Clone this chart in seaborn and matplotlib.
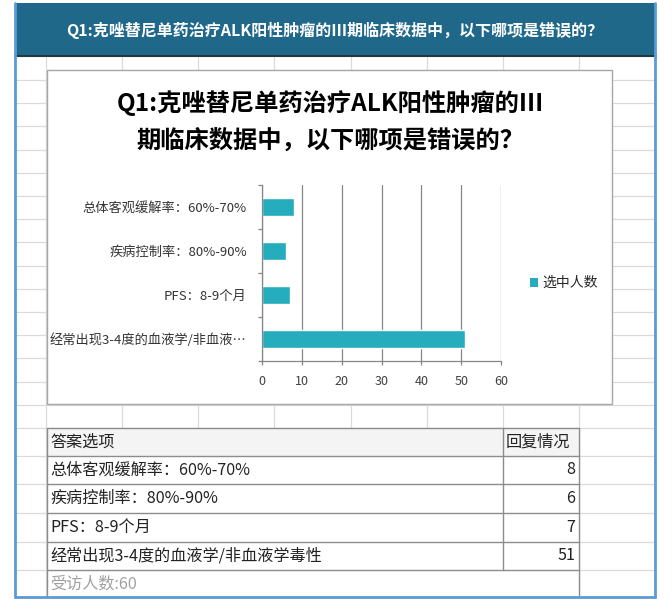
import matplotlib
matplotlib.use("Agg")
import matplotlib.pyplot as plt
import seaborn as sns
import pandas as pd
from matplotlib.patches import Rectangle, Patch

# ---------------- data ----------------
header_title = "Q1:克唑替尼单药治疗ALK阳性肿瘤的Ⅲ期临床数据中，以下哪项是错误的？"
chart_title = "Q1:克唑替尼单药治疗ALK阳性肿瘤的III\n期临床数据中，以下哪项是错误的？"
categories = ["总体客观缓解率：60%-70%", "疾病控制率：80%-90%", "PFS：8-9个月",
              "经常出现3-4度的血液学/非血液…"]
table_labels = ["总体客观缓解率：60%-70%", "疾病控制率：80%-90%", "PFS：8-9个月",
                "经常出现3-4度的血液学/非血液学毒性"]
counts = [8, 6, 7, 51]
x_ticks = [0, 10, 20, 30, 40, 50, 60]
series_name = "选中人数"
table_head = ["答案选项", "回复情况"]
respondents = "受访人数:60"

# ---------------- style ----------------
sns.set_theme(style="white")
plt.rcParams["font.family"] = ["Noto Sans CJK SC", "DejaVu Sans"]

W, H = 672, 599
fig = plt.figure(figsize=(W / 100, H / 100), dpi=100)
fig.patch.set_facecolor("white")

bg = fig.add_axes([0, 0, 1, 1], zorder=0)
bg.set_xlim(0, W)
bg.set_ylim(H, 0)
bg.axis("off")

grid_c = "#dadada"
# spreadsheet grid
grid_cols = [46, 122, 198, 274, 351, 427, 503, 579]
grid_rows = [80 + 23.2 * k for k in range(16)] + [456, 484, 513, 542, 570]
for gx in grid_cols:
    bg.plot([gx, gx], [57, 597], color=grid_c, lw=0.9, zorder=1)
for gy in grid_rows:
    bg.plot([15, 655], [gy, gy], color=grid_c, lw=0.9, zorder=1)

# header bar
bg.add_patch(Rectangle((15, 3), 641, 53, facecolor="#1f6889", edgecolor="none", zorder=3))
bg.plot([15, 656], [56, 56], color="#223842", lw=1.5, zorder=4)
bg.text(335, 30, header_title, color="white", fontsize=11.5, fontweight="bold",
        ha="center", va="center", zorder=5)

# outer blue frame
bg.plot([15, 15], [3, 597], color="#5b9bd5", lw=2, zorder=6)
bg.plot([655, 655], [3, 597], color="#5b9bd5", lw=2, zorder=6)
bg.plot([15, 655], [597, 597], color="#5b9bd5", lw=2, zorder=6)

# chart box
bg.add_patch(Rectangle((47, 70), 565, 334, facecolor="white", edgecolor="#a6a6a6",
                       lw=1, zorder=3))
bg.text(330, 122, chart_title, color="black", fontsize=17.5, ha="center", va="center",
        linespacing=1.68, fontweight="bold", zorder=5)

# table
tb_left, tb_div, tb_right = 47, 503, 579
row_lines = [428, 456, 484, 513, 542, 570, 597]
bg.add_patch(Rectangle((tb_left, 428), tb_right - tb_left, 597 - 428,
                       facecolor="white", edgecolor="none", zorder=3))
bg.add_patch(Rectangle((tb_left, 428), tb_right - tb_left, 28,
                       facecolor="#f4f4f4", edgecolor="none", zorder=3))
tc = "#8c8c8c"
for ry in row_lines[:-1]:
    bg.plot([tb_left, tb_right], [ry, ry], color=tc, lw=1, zorder=4)
bg.plot([tb_left, tb_left], [428, 597], color=tc, lw=1, zorder=4)
bg.plot([tb_div, tb_div], [428, 570], color=tc, lw=1, zorder=4)
bg.plot([tb_right, tb_right], [428, 597], color=tc, lw=1, zorder=4)

txt_c = "#222222"
fs_t = 11.6
centers = [(row_lines[i] + row_lines[i + 1]) / 2 for i in range(len(row_lines) - 1)]
bg.text(50, centers[0], table_head[0], fontsize=fs_t, color=txt_c, ha="left", va="center", zorder=5)
bg.text(506, centers[0], table_head[1], fontsize=fs_t, color=txt_c, ha="left", va="center", zorder=5)
for i, (lab, v) in enumerate(zip(table_labels, counts)):
    bg.text(50, centers[i + 1], lab, fontsize=fs_t, color=txt_c, ha="left", va="center", zorder=5)
    bg.text(575, centers[i + 1], str(v), fontsize=fs_t, color=txt_c, ha="right", va="center", zorder=5)
bg.text(50, centers[-1], respondents, fontsize=fs_t, color="#a0a0a0", ha="left", va="center", zorder=5)

# ---------------- bar chart ----------------
ax_l, ax_r, ax_t, ax_b = 262, 501, 185, 361
ax = fig.add_axes([ax_l / W, 1 - ax_b / H, (ax_r - ax_l) / W, (ax_b - ax_t) / H], zorder=2)
ax.set_facecolor("none")

df = pd.DataFrame({"cat": categories, "n": counts})
bar_c = "#25adbd"
sns.barplot(data=df, x="n", y="cat", orient="h", color=bar_c, saturation=1,
            width=0.41, ax=ax)

ax.set_xlim(0, 60)
ax.set_xticks(x_ticks)
ax.set_xlabel("")
ax.set_ylabel("")
ax.set_axisbelow(True)
axis_c = "#868686"
ax.grid(axis="x", color=axis_c, lw=0.9)
ax.grid(axis="y", visible=False)
for s in ["top", "right"]:
    ax.spines[s].set_visible(False)
for s in ["left", "bottom"]:
    ax.spines[s].set_color(axis_c)
    ax.spines[s].set_linewidth(0.9)

ax.set_yticks([-0.5, 0.5, 1.5, 2.5, 3.5], minor=True)
ax.tick_params(axis="y", which="major", length=0, pad=11, labelsize=9.5, labelcolor="#333333")
ax.tick_params(axis="y", which="minor", length=3, width=0.9, color=axis_c, direction="out", left=True)
ax.tick_params(axis="x", which="major", length=3, width=0.9, color=axis_c, direction="out",
               bottom=True, pad=7, labelsize=9, labelcolor="#404040")

handle = Patch(facecolor=bar_c, edgecolor="none")
fig.legend([handle], [series_name], loc="center left",
           bbox_to_anchor=(530 / W, 1 - 283 / H), frameon=False, fontsize=10,
           handlelength=0.55, handleheight=0.6, handletextpad=0.35, borderpad=0,
           borderaxespad=0)

fig.savefig("out.png", dpi=100, facecolor="white")
